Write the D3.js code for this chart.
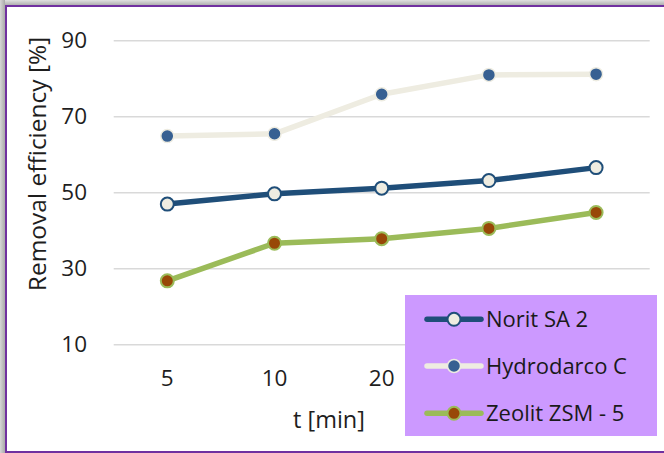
<!DOCTYPE html>
<html>
<head>
<meta charset="utf-8">
<script src="https://cdn.jsdelivr.net/npm/d3@7"></script>
<style>
  html, body { margin: 0; padding: 0; background: #fff; }
  svg { display: block; font-family: "Open Sans", sans-serif; }
</style>
</head>
<body>
<svg id="chart" width="664" height="453"></svg>
<script>
const categories = ["5", "10", "20", "30", "60"];
const visibleCategoryLabels = ["5", "10", "20"]; // the others sit under the legend box
const yTicks = [10, 30, 50, 70, 90];
const seriesNames = ["Norit SA 2", "Hydrodarco C", "Zeolit ZSM - 5"];
const noritValues = [47.0, 49.7, 51.2, 53.2, 56.6];
const hydroValues = [64.9, 65.5, 75.9, 81.0, 81.2];
const zeolitValues = [26.8, 36.7, 37.9, 40.6, 44.8];
const xTitle = "t [min]";
const yTitle = "Removal efficiency [%]";

const series = [
  { name: seriesNames[0], values: noritValues, line: "#1f4e79", fill: "#eeece1", stroke: "#1f4e79", r: 6.5, sw: 2 },
  { name: seriesNames[1], values: hydroValues, line: "#eeece1", fill: "#376092", stroke: "#eeece1", r: 6.5, sw: 1.5 },
  { name: seriesNames[2], values: zeolitValues, line: "#9bbb59", fill: "#984807", stroke: "#9bbb59", r: 6.5, sw: 2 }
];

const svg = d3.select("#chart");

// frame: shadow + purple border
const defs = svg.append("defs");
const gl = defs.append("linearGradient").attr("id", "shL").attr("x1", 0).attr("x2", 1).attr("y1", 0).attr("y2", 0);
gl.append("stop").attr("offset", 0).attr("stop-color", "#d6d6d6");
gl.append("stop").attr("offset", 1).attr("stop-color", "#a9a9a9");
const gt = defs.append("linearGradient").attr("id", "shT").attr("x1", 0).attr("x2", 0).attr("y1", 0).attr("y2", 1);
gt.append("stop").attr("offset", 0).attr("stop-color", "#e0e0e0");
gt.append("stop").attr("offset", 1).attr("stop-color", "#b0b0b0");
svg.append("rect").attr("x", 0).attr("y", 0).attr("width", 664).attr("height", 5).attr("fill", "url(#shT)");
svg.append("rect").attr("x", 0).attr("y", 0).attr("width", 5).attr("height", 453).attr("fill", "url(#shL)");
svg.append("rect").attr("x", 5).attr("y", 5).attr("width", 664).attr("height", 447)
  .attr("fill", "#fff").attr("stroke", "none");
svg.append("path").attr("d", "M664,6 H6 V452 H664").attr("fill", "none").attr("stroke", "#7030a0").attr("stroke-width", 2);

const x = d3.scaleBand().domain(categories).range([113.7, 649.7]);
const y = d3.scaleLinear().domain([10, 90]).range([344.7, 40.7]);

// gridlines
svg.append("g").selectAll("line").data(yTicks).join("line")
  .attr("x1", 113.7).attr("x2", 649.7)
  .attr("y1", d => y(d)).attr("y2", d => y(d))
  .attr("stroke", "#d9d9d9").attr("stroke-width", 1.5);

// y axis labels
const yAxis = d3.axisLeft(y).tickValues(yTicks).tickSize(0).tickPadding(0);
const gy = svg.append("g").attr("transform", "translate(87,0)").call(yAxis);
gy.select(".domain").remove();
gy.selectAll("text").attr("font-size", 22.5).attr("fill", "#1e1e1e").attr("font-family", "Open Sans");

// x axis labels
const xAxis = d3.axisBottom(x).tickValues(visibleCategoryLabels).tickSize(0).tickPadding(0);
const gx = svg.append("g").attr("transform", "translate(0,370)").call(xAxis);
gx.select(".domain").remove();
gx.selectAll("text").attr("font-size", 22.5).attr("fill", "#1e1e1e").attr("font-family", "Open Sans");

// axis titles
svg.append("text").attr("x", 329).attr("y", 428).attr("text-anchor", "middle")
  .attr("font-size", 23.5).attr("fill", "#1e1e1e").text(xTitle);
svg.append("text").attr("transform", "translate(46,164) rotate(-90)").attr("text-anchor", "middle")
  .attr("font-size", 24.5).attr("fill", "#1e1e1e").text(yTitle);

const cx = (d, i) => x(categories[i]) + x.bandwidth() / 2;
const line = d3.line().x((d, i) => cx(d, i)).y(d => y(d));

series.forEach(s => {
  svg.append("path").datum(s.values).attr("d", line)
    .attr("fill", "none").attr("stroke", s.line).attr("stroke-width", 5.5)
    .attr("stroke-linejoin", "round").attr("stroke-linecap", "round");
  svg.append("g").selectAll("circle").data(s.values).join("circle")
    .attr("cx", cx).attr("cy", d => y(d)).attr("r", s.r)
    .attr("fill", s.fill).attr("stroke", s.stroke).attr("stroke-width", s.sw);
});

// legend
const lg = svg.append("g");
lg.append("rect").attr("x", 405).attr("y", 295).attr("width", 252).attr("height", 141).attr("fill", "#cc99ff");
const rows = [319.3, 366, 413.3];
series.forEach((s, i) => {
  const g = lg.append("g").attr("transform", `translate(0,${rows[i]})`);
  g.append("line").attr("x1", 427).attr("x2", 481).attr("y1", 0).attr("y2", 0)
    .attr("stroke", s.line).attr("stroke-width", 5.5).attr("stroke-linecap", "round");
  g.append("circle").attr("cx", 454).attr("cy", 0).attr("r", s.r).attr("fill", s.fill)
    .attr("stroke", s.stroke).attr("stroke-width", s.sw);
  g.append("text").attr("x", 486).attr("y", 0).attr("dy", "0.35em")
    .attr("font-size", 22).attr("fill", "#1a1a1a").text(s.name);
});
</script>
</body>
</html>
